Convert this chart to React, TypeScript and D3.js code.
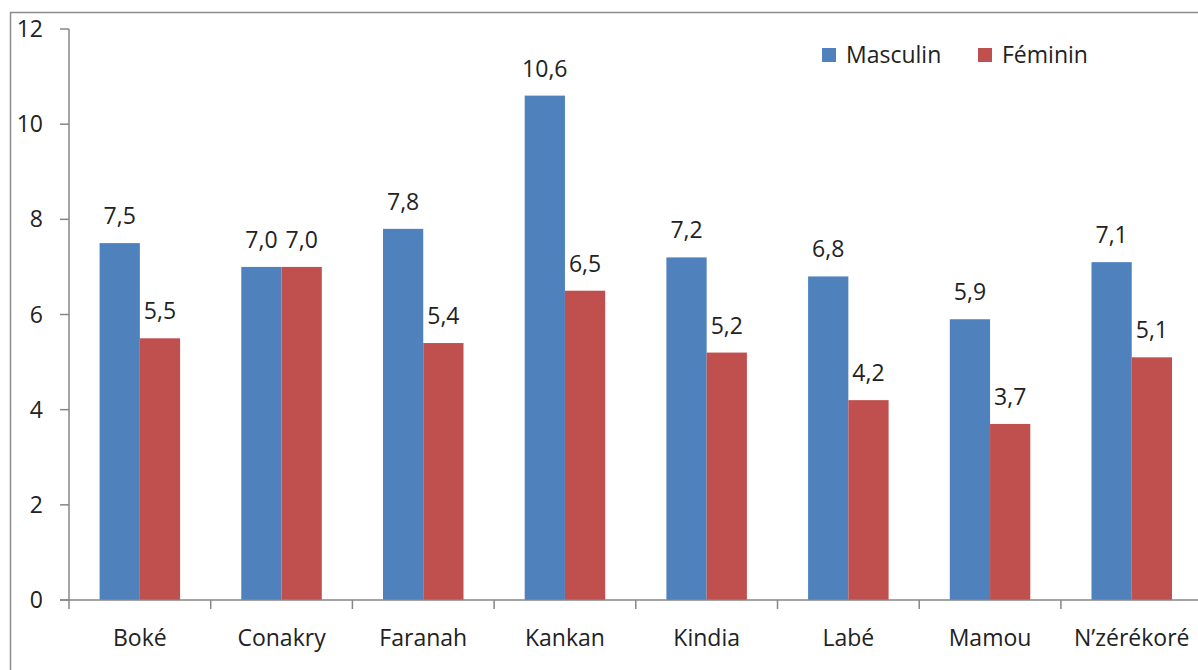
import React from "react";
import * as d3 from "d3";

const categories = ["Boké", "Conakry", "Faranah", "Kankan", "Kindia", "Labé", "Mamou", "N’zérékoré"];
const masculin = [7.5, 7.0, 7.8, 10.6, 7.2, 6.8, 5.9, 7.1];
const feminin = [5.5, 7.0, 5.4, 6.5, 5.2, 4.2, 3.7, 5.1];
const seriesNames = ["Masculin", "Féminin"];
const seriesColors = ["#4F81BD", "#C0504D"];
const yTicks = [0, 2, 4, 6, 8, 10, 12];

const W = 1198;
const H = 670;
const FONT = "'Open Sans', sans-serif";
const FS = 23;

export default function App() {
  const x0 = 69;
  const bandW = 141.7;
  const x = d3.scaleBand<string>().domain(categories).range([x0, x0 + bandW * categories.length]).paddingInner(0).paddingOuter(0);
  const y = d3.scaleLinear().domain([0, 12]).range([600, 29]);
  const inner = d3.scaleBand<number>().domain([0, 1]).range([0, bandW]).paddingInner(0).paddingOuter(0.76);
  const series = [masculin, feminin];
  const fmt = (v: number) => v.toFixed(1).replace(".", ",");

  return (
    <svg width={W} height={H} style={{ position: "absolute", left: 0, top: 0, background: "#fff" }}>
      <rect x={10.5} y={12.5} width={W + 10} height={H + 10} fill="#fff" stroke="#8c8c8c" strokeWidth={1.5} />
      {series.map((vals, si) =>
        vals.map((v, i) => (
          <rect
            key={`${si}-${i}`}
            x={(x(categories[i]) as number) + (inner(si) as number)}
            y={y(v)}
            width={inner.bandwidth()}
            height={y(0) - y(v)}
            fill={seriesColors[si]}
          />
        ))
      )}
      {series.map((vals, si) =>
        vals.map((v, i) => (
          <text
            key={`l${si}-${i}`}
            x={(x(categories[i]) as number) + (inner(si) as number) + inner.bandwidth() / 2}
            y={y(v) - 19}
            textAnchor="middle"
            fontFamily={FONT}
            fontSize={FS}
            fill="#222"
          >
            {fmt(v)}
          </text>
        ))
      )}
      {/* y axis */}
      <line x1={x0} x2={x0} y1={y(12)} y2={y(0)} stroke="#868686" strokeWidth={1.5} />
      {yTicks.map((t) => (
        <g key={t}>
          <line x1={x0 - 9} x2={x0} y1={y(t)} y2={y(t)} stroke="#868686" strokeWidth={1.5} />
          <text x={43} y={y(t) + 8} textAnchor="end" fontFamily={FONT} fontSize={FS} fill="#222">
            {t}
          </text>
        </g>
      ))}
      {/* x axis */}
      <line x1={x0 - 9} x2={W} y1={y(0)} y2={y(0)} stroke="#868686" strokeWidth={1.5} />
      {categories.map((c, i) => (
        <g key={c}>
          <line x1={x0 + bandW * i} x2={x0 + bandW * i} y1={y(0)} y2={y(0) + 9} stroke="#868686" strokeWidth={1.5} />
          <text x={(x(c) as number) + bandW / 2} y={646} textAnchor="middle" fontFamily={FONT} fontSize={FS} fill="#222">
            {c}
          </text>
        </g>
      ))}
      {/* legend */}
      {seriesNames.map((n, i) => {
        const lx = [822, 978][i];
        return (
          <g key={n}>
            <rect x={lx} y={48} width={14} height={14} fill={seriesColors[i]} />
            <text x={lx + 24} y={63} fontFamily={FONT} fontSize={FS} fill="#222">
              {n}
            </text>
          </g>
        );
      })}
    </svg>
  );
}
